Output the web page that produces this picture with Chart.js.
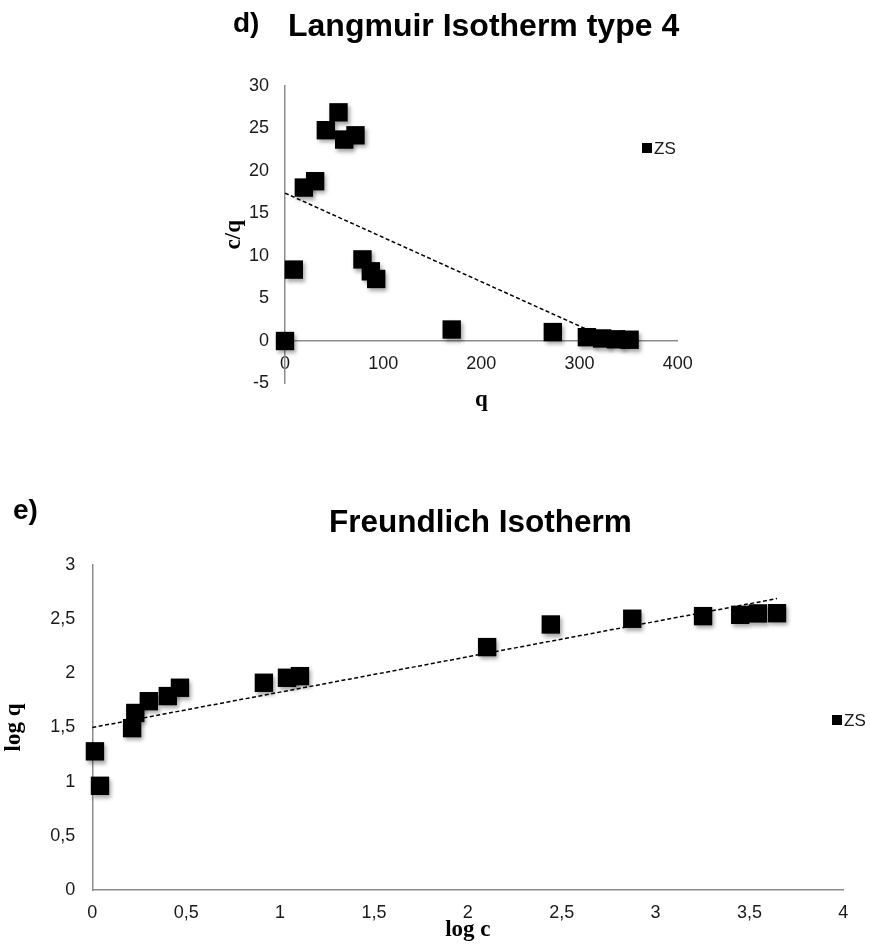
<!DOCTYPE html>
<html>
<head>
<meta charset="utf-8">
<script src="https://cdn.jsdelivr.net/npm/chart.js@4.4.1/dist/chart.umd.min.js"></script>
<style>
html,body{margin:0;padding:0;background:#fff;}
#wrap{position:relative;width:870px;height:945px;overflow:hidden;}
canvas{position:absolute;left:0;}
#c1{top:0;}
#c2{top:460px;}
</style>
</head>
<body>
<div id="wrap">
<canvas id="c1" width="870" height="460"></canvas>
<canvas id="c2" width="870" height="485"></canvas>
</div>
<script>
// ---------- data ----------
const seriesName = 'ZS';

// d) Langmuir Isotherm type 4
const langmuirTitle = 'Langmuir Isotherm type 4';
const langmuirPanel = 'd)';
const langmuirQ  = [0, 9, 19.2, 30.7, 41.6, 54.5, 60.3, 71.8, 78.9, 87.4, 92.9, 169.8, 272.8, 307.5, 323, 337, 351];
const langmuirCQ = [0, 8.4, 18.05, 18.8, 24.8, 26.9, 23.7, 24.2, 9.6, 8.2, 7.3, 1.35, 1.05, 0.45, 0.3, 0.2, 0.15];
const langmuirTrendQ  = [0, 351];
const langmuirTrendCQ = [17.4, -0.9];
const langmuirXTicks = ['0', '100', '200', '300', '400'];
const langmuirYTicks = ['-5', '0', '5', '10', '15', '20', '25', '30'];

// e) Freundlich Isotherm
const freundTitle = 'Freundlich Isotherm';
const freundPanel = 'e)';
const freundLogC = [0.014, 0.041, 0.212, 0.229, 0.301, 0.402, 0.467, 0.914, 1.037, 1.106, 2.103, 2.442, 2.876, 3.253, 3.451, 3.545, 3.647];
const freundLogQ = [1.28, 0.962, 1.494, 1.634, 1.743, 1.79, 1.867, 1.913, 1.959, 1.974, 2.242, 2.451, 2.504, 2.528, 2.54, 2.553, 2.555];
const freundTrendLogC = [0, 3.647];
const freundTrendLogQ = [1.50, 2.69];
const freundXTicks = ['0', '0,5', '1', '1,5', '2', '2,5', '3', '3,5', '4'];
const freundYTicks = ['0', '0,5', '1', '1,5', '2', '2,5', '3'];

// ---------- styling ----------
const SANS = "'Liberation Sans', Arial, Helvetica, sans-serif";
const SERIF = "'Liberation Serif', 'Times New Roman', serif";
const axisColor = '#8c8c8c';
const tickColor = '#1a1a1a';

function pts(xs, ys) { return xs.map((x, i) => ({ x: x, y: ys[i] })); }

const markerShadow = {
  id: 'markerShadow',
  beforeDatasetDraw(chart, args) {
    if (args.index === 0) {
      const c = chart.ctx;
      c.save();
      c.shadowColor = 'rgba(0,0,0,0.35)';
      c.shadowBlur = 4;
      c.shadowOffsetX = 2;
      c.shadowOffsetY = 3;
    }
  },
  afterDatasetDraw(chart, args) {
    if (args.index === 0) chart.ctx.restore();
  }
};

// titles, panel letter and legend drawn on the canvas
const annotations = {
  id: 'annotations',
  afterDraw(chart, args, opts) {
    const c = chart.ctx;
    c.save();
    c.fillStyle = '#000';
    c.textBaseline = 'alphabetic';
    c.textAlign = 'left';
    c.font = 'bold ' + opts.panelSize + 'px ' + SANS;
    c.fillText(opts.panel, opts.panelX, opts.panelY);
    c.font = 'bold ' + opts.titleSize + 'px ' + SANS;
    c.fillText(opts.title, opts.titleX, opts.titleY);
    // legend
    const ds = chart.data.datasets[0];
    c.fillStyle = ds.backgroundColor;
    c.fillRect(opts.legX, opts.legY, 10, 10);
    c.fillStyle = tickColor;
    c.font = '17px ' + SANS;
    c.fillText(ds.label, opts.legX + 12, opts.legY + 10.5);
    c.restore();
  }
};

function scatterSet(xs, ys) {
  return {
    label: seriesName,
    data: pts(xs, ys),
    pointStyle: 'rect',
    pointRadius: 13,
    pointHoverRadius: 13,
    backgroundColor: '#000',
    borderColor: '#000',
    borderWidth: 0,
    clip: false
  };
}
function trendSet(xs, ys) {
  return {
    label: 'trend',
    data: pts(xs, ys),
    showLine: true,
    pointRadius: 0,
    borderColor: '#000',
    borderWidth: 1.5,
    borderDash: [4, 2.5],
    fill: false,
    clip: false
  };
}

const tickFont = { family: SANS, size: 18 };
const axTitleFont = { family: SERIF, size: 23, weight: 'bold' };

// ---------- chart d) ----------
new Chart(document.getElementById('c1'), {
  type: 'scatter',
  data: { datasets: [scatterSet(langmuirQ, langmuirCQ), trendSet(langmuirTrendQ, langmuirTrendCQ)] },
  plugins: [markerShadow, annotations],
  options: {
    responsive: false,
    animation: false,
    devicePixelRatio: 1,
    layout: { padding: { left: 215, right: 192.3, top: 86, bottom: 76.5 } },
    plugins: {
      legend: { display: false },
      tooltip: { enabled: false },
      annotations: {
        panel: langmuirPanel, panelX: 233, panelY: 32, panelSize: 28,
        title: langmuirTitle, titleX: 288, titleY: 36, titleSize: 32,
        legX: 642, legY: 143
      }
    },
    scales: {
      x: {
        type: 'linear', min: 0, max: 400,
        position: { y: 0 },
        grid: { display: false, drawTicks: false },
        border: { display: true, color: axisColor, width: 1.5 },
        ticks: { stepSize: 100, padding: 12, font: tickFont, color: tickColor,
                 callback: (v, i) => langmuirXTicks[i] },
        title: { display: true, text: 'q', font: axTitleFont, color: '#000', padding: { top: 6, bottom: 2.5 } },
        afterFit: s => { s.height = 75; }
      },
      y: {
        type: 'linear', min: -5, max: 30,
        grid: { display: false, drawTicks: false },
        border: { display: true, color: axisColor, width: 1.5 },
        ticks: { stepSize: 5, padding: 16, font: tickFont, color: tickColor,
                 callback: (v, i) => langmuirYTicks[i] },
        title: { display: true, text: 'c/q', font: axTitleFont, color: '#000', padding: { top: 5, bottom: 0 } },
        afterFit: s => { s.width = 70; }
      }
    }
  }
});

// ---------- chart e) ----------
new Chart(document.getElementById('c2'), {
  type: 'scatter',
  data: { datasets: [scatterSet(freundLogC, freundLogQ), trendSet(freundTrendLogC, freundTrendLogQ)] },
  plugins: [markerShadow, annotations],
  options: {
    responsive: false,
    animation: false,
    devicePixelRatio: 1,
    layout: { padding: { left: 0, right: 26.7, top: 105, bottom: 0 } },
    plugins: {
      legend: { display: false },
      tooltip: { enabled: false },
      annotations: {
        panel: freundPanel, panelX: 13, panelY: 59, panelSize: 28,
        title: freundTitle, titleX: 329, titleY: 72, titleSize: 31.5,
        legX: 832, legY: 255
      }
    },
    scales: {
      x: {
        type: 'linear', min: 0, max: 4,
        position: 'bottom',
        grid: { display: false, drawTicks: false },
        border: { display: true, color: axisColor, width: 1.5 },
        ticks: { stepSize: 0.5, padding: 12, font: tickFont, color: tickColor,
                 callback: (v, i) => freundXTicks[i] },
        title: { display: true, text: 'log c', font: axTitleFont, color: '#000', padding: { top: 0, bottom: 1 } },
        afterFit: s => { s.height = 55; }
      },
      y: {
        type: 'linear', min: 0, max: 3,
        grid: { display: false, drawTicks: false },
        border: { display: true, color: axisColor, width: 1.5 },
        ticks: { stepSize: 0.5, padding: 17, font: tickFont, color: tickColor,
                 callback: (v, i) => freundYTicks[i] },
        title: { display: true, text: 'log q', font: axTitleFont, color: '#000', padding: { top: 0, bottom: 0 } },
        afterFit: s => { s.width = 92.3; }
      }
    }
  }
});
</script>
</body>
</html>
